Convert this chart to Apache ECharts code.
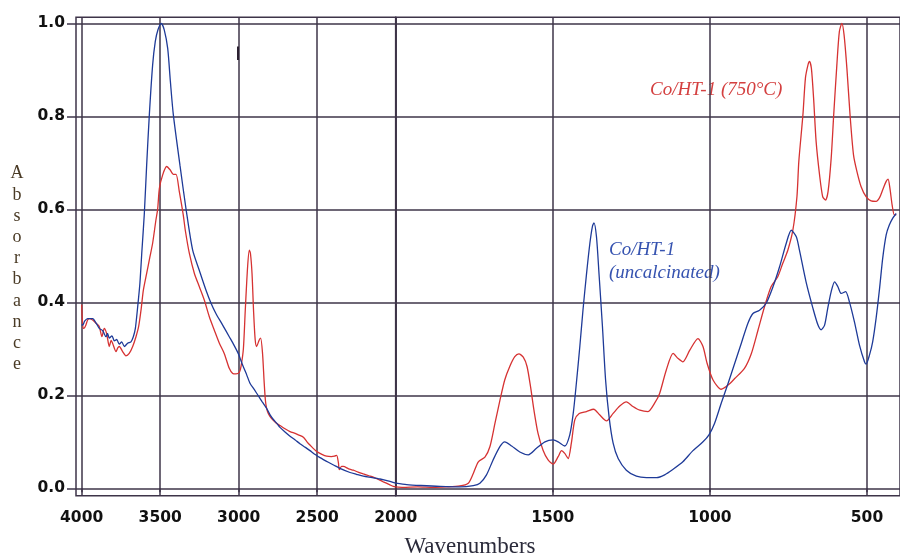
<!DOCTYPE html>
<html>
<head>
<meta charset="utf-8">
<script src="https://cdn.jsdelivr.net/npm/echarts@6/dist/echarts.min.js"></script>
<style>
  html, body { margin: 0; padding: 0; background: #ffffff; }
  #chart { width: 900px; height: 555px; }
</style>
</head>
<body>
<div id="chart"></div>
<script>
// FTIR spectra, absorbance vs wavenumber (cm-1).
// The axis is split at 2000 cm-1: the low-wavenumber part is drawn at twice the scale.

// Tick values
const xTicksHigh = [2000, 2500, 3000, 3500, 4000];
const xTicksLow = [500, 1000, 1500, 2000];
const xLabelsLow = [500, 1000, 1500];
const yTicks = [0, 0.2, 0.4, 0.6, 0.8, 1.0];

// Co/HT-1 (uncalcinated), 4000-2000 cm-1
const uncalcinedHigh = [
  [4000,0.352],[3994,0.351],[3980,0.360],[3962,0.365],[3930,0.365],[3909,0.356],[3888,0.344],
  [3866,0.339],[3845,0.326],[3835,0.333],[3824,0.323],[3807,0.328],[3792,0.317],[3777,0.320],
  [3760,0.310],[3745,0.315],[3728,0.305],[3707,0.312],[3686,0.315],[3671,0.326],[3658,0.344],
  [3643,0.391],[3629,0.441],[3616,0.512],[3601,0.590],[3586,0.695],[3569,0.803],[3548,0.910],
  [3531,0.961],[3514,0.986],[3493,1.000],[3474,0.986],[3452,0.946],[3435,0.875],[3416,0.803],
  [3374,0.695],[3335,0.600],[3293,0.512],[3251,0.469],[3208,0.426],[3176,0.398],[3145,0.376],
  [3102,0.351],[3060,0.326],[3030,0.308],[3000,0.288],[2975,0.265],[2950,0.245],[2928,0.226],
  [2900,0.212],[2875,0.199],[2850,0.186],[2822,0.172],[2800,0.158],[2779,0.148],[2758,0.140],
  [2737,0.131],[2705,0.121],[2673,0.112],[2640,0.104],[2610,0.096],[2575,0.088],[2546,0.081],
  [2510,0.072],[2482,0.066],[2429,0.056],[2390,0.049],[2355,0.043],[2291,0.034],[2250,0.030],
  [2206,0.026],[2150,0.023],[2100,0.020],[2050,0.016],[2000,0.011]
];

// Co/HT-1 (uncalcinated), 2000-400 cm-1
const uncalcinedLow = [
  [2000,0.011],[1965,0.008],[1920,0.006],[1859,0.004],[1796,0.003],[1753,0.006],[1732,0.011],
  [1711,0.029],[1690,0.061],[1668,0.090],[1653,0.100],[1631,0.091],[1605,0.078],[1578,0.072],
  [1552,0.086],[1525,0.100],[1499,0.104],[1483,0.100],[1462,0.091],[1446,0.115],[1435,0.161],
  [1425,0.226],[1414,0.305],[1404,0.383],[1393,0.459],[1382,0.527],[1374,0.563],[1369,0.571],
  [1361,0.541],[1353,0.462],[1342,0.348],[1332,0.233],[1321,0.154],[1308,0.097],[1292,0.064],
  [1266,0.039],[1234,0.026],[1202,0.023],[1170,0.023],[1144,0.029],[1117,0.041],[1086,0.057],
  [1054,0.081],[1022,0.100],[1003,0.115],[985,0.140],[964,0.183],[942,0.226],[921,0.269],
  [900,0.312],[879,0.355],[863,0.376],[842,0.383],[821,0.398],[799,0.434],[778,0.477],
  [757,0.527],[741,0.555],[725,0.541],[715,0.512],[694,0.444],[672,0.387],[656,0.351],
  [646,0.341],[635,0.351],[625,0.387],[614,0.423],[603,0.444],[593,0.434],[582,0.419],
  [568,0.423],[556,0.401],[540,0.358],[524,0.308],[508,0.272],[503,0.267],[492,0.287],
  [482,0.315],[471,0.366],[460,0.430],[450,0.495],[439,0.545],[429,0.566],[418,0.581],[407,0.591]
];

// Co/HT-1 (750 °C), 4000-2000 cm-1
const calcinedHigh = [
  [4000,0.395],[3996,0.365],[3990,0.344],[3982,0.345],[3973,0.351],[3962,0.362],[3951,0.365],
  [3930,0.362],[3909,0.355],[3888,0.348],[3871,0.326],[3856,0.344],[3841,0.333],[3824,0.305],
  [3812,0.318],[3803,0.312],[3781,0.294],[3770,0.302],[3760,0.305],[3739,0.294],[3718,0.285],
  [3697,0.290],[3675,0.305],[3654,0.326],[3637,0.348],[3622,0.383],[3607,0.426],[3586,0.462],
  [3565,0.498],[3548,0.527],[3527,0.577],[3516,0.600],[3505,0.645],[3484,0.674],[3459,0.692],
  [3437,0.685],[3416,0.675],[3399,0.675],[3378,0.638],[3353,0.588],[3340,0.555],[3314,0.505],
  [3282,0.462],[3251,0.434],[3219,0.405],[3187,0.369],[3155,0.340],[3123,0.312],[3092,0.290],
  [3060,0.258],[3038,0.247],[3017,0.246],[2995,0.250],[2985,0.262],[2970,0.300],[2958,0.383],
  [2943,0.477],[2932,0.512],[2925,0.505],[2915,0.462],[2905,0.380],[2895,0.320],[2886,0.305],
  [2869,0.319],[2860,0.323],[2848,0.290],[2838,0.230],[2830,0.190],[2822,0.172],[2810,0.160],
  [2790,0.150],[2760,0.140],[2737,0.135],[2705,0.128],[2673,0.122],[2640,0.118],[2620,0.115],
  [2588,0.110],[2565,0.100],[2546,0.093],[2503,0.079],[2470,0.073],[2440,0.069],[2410,0.068],
  [2390,0.069],[2376,0.071],[2365,0.055],[2359,0.040],[2345,0.047],[2334,0.047],[2300,0.042],
  [2270,0.039],[2240,0.035],[2206,0.031],[2170,0.027],[2143,0.024],[2110,0.019],[2079,0.014],
  [2040,0.008],[2015,0.004],[2000,0.003]
];

// Co/HT-1 (750 °C), 2000-400 cm-1
const calcinedLow = [
  [2000,0.003],[1976,0.002],[1930,0.003],[1880,0.002],[1840,0.003],[1796,0.005],[1769,0.011],
  [1753,0.032],[1737,0.057],[1716,0.067],[1700,0.090],[1684,0.140],[1668,0.190],[1653,0.233],
  [1637,0.262],[1621,0.283],[1608,0.289],[1594,0.282],[1582,0.262],[1571,0.219],[1560,0.168],
  [1547,0.118],[1531,0.082],[1515,0.061],[1499,0.052],[1483,0.068],[1472,0.081],[1462,0.075],
  [1451,0.064],[1441,0.097],[1430,0.147],[1416,0.161],[1393,0.165],[1370,0.170],[1351,0.158],
  [1329,0.145],[1308,0.161],[1287,0.177],[1266,0.186],[1245,0.176],[1223,0.168],[1197,0.165],
  [1176,0.183],[1160,0.204],[1139,0.254],[1117,0.290],[1101,0.279],[1086,0.272],[1064,0.297],
  [1038,0.322],[1022,0.305],[1009,0.269],[990,0.233],[964,0.213],[942,0.222],[921,0.236],
  [890,0.258],[868,0.290],[847,0.340],[826,0.391],[805,0.434],[784,0.455],[768,0.484],
  [752,0.512],[736,0.555],[723,0.627],[717,0.703],[704,0.803],[696,0.882],[688,0.910],
  [683,0.918],[677,0.903],[670,0.839],[662,0.746],[651,0.674],[641,0.627],[632,0.620],
  [624,0.638],[614,0.710],[606,0.803],[596,0.910],[588,0.982],[580,1.000],[573,0.975],
  [564,0.903],[554,0.803],[543,0.717],[532,0.681],[519,0.649],[503,0.627],[487,0.618],
  [471,0.617],[460,0.625],[450,0.642],[439,0.660],[433,0.665],[427,0.645],[420,0.609],
  [413,0.588],[407,0.588]
];

const GRID_COLOR = '#3e3449';
const BLUE = '#1e3a98';
const RED = '#d63232';
const TICK_FONT = { fontFamily: 'DejaVu Sans', fontWeight: 'bold', fontSize: 15.5, color: '#111111' };

const isOn = (v, list) => list.some(t => Math.abs(t - v) < 1e-6);

function xAxisFor(gridIndex, min, max, ticks, labels) {
  return {
    type: 'value', gridIndex, inverse: true, min, max,
    axisLine: { show: false },
    axisTick: { show: true, inside: false, length: 4, customValues: ticks,
      lineStyle: { color: GRID_COLOR, width: 1.5 } },
    axisLabel: Object.assign({ customValues: labels, margin: 14,
      formatter: v => isOn(v, labels) ? String(Math.round(v)) : '' }, TICK_FONT),
    splitLine: { show: true, lineStyle: { color: GRID_COLOR, width: 1.5 } }
  };
}

function yAxisFor(gridIndex, showLabels) {
  return {
    type: 'value', gridIndex, min: -0.0159, max: 1.0129,
    axisLine: { show: false },
    axisTick: { show: showLabels, inside: false, length: 9, customValues: yTicks,
      lineStyle: { color: GRID_COLOR, width: 1.5 } },
    axisLabel: Object.assign({ show: showLabels, customValues: yTicks, margin: 11,
      formatter: v => isOn(v, yTicks) ? v.toFixed(1) : '' }, TICK_FONT),
    splitLine: { show: true, lineStyle: { color: GRID_COLOR, width: 1.5 } }
  };
}

function spectrum(name, data, color, gridIndex, extra) {
  return Object.assign({
    name, type: 'line', data, xAxisIndex: gridIndex, yAxisIndex: gridIndex,
    showSymbol: false, smooth: 0.25, silent: true,
    lineStyle: { color, width: 1.3 }
  }, extra || {});
}

const chart = echarts.init(document.getElementById('chart'), null, { renderer: 'canvas' });

chart.setOption({
  animation: false,
  backgroundColor: '#ffffff',
  grid: [
    { left: 76, top: 17.3, width: 319.7, height: 478.4, show: true,
      borderColor: GRID_COLOR, borderWidth: 1.5, backgroundColor: 'transparent' },
    { left: 395.7, top: 17.3, width: 504.9, height: 478.4, show: true,
      borderColor: GRID_COLOR, borderWidth: 1.5, backgroundColor: 'transparent' }
  ],
  xAxis: [
    xAxisFor(0, 2000, 4036, xTicksHigh, xTicksHigh),
    xAxisFor(1, 395, 2000, xTicksLow, xLabelsLow)
  ],
  yAxis: [yAxisFor(0, true), yAxisFor(1, false)],
  series: [
    spectrum('Co/HT-1 (750°C)', calcinedHigh, RED, 0, {
      markLine: {
        silent: true, symbol: 'none', label: { show: false },
        lineStyle: { color: '#2a2030', width: 2, type: 'solid' },
        data: [[{ coord: [3007, 0.950] }, { coord: [3007, 0.921] }]]
      }
    }),
    spectrum('Co/HT-1 (750°C)', calcinedLow, RED, 1),
    spectrum('Co/HT-1 (uncalcinated)', uncalcinedHigh, BLUE, 0),
    spectrum('Co/HT-1 (uncalcinated)', uncalcinedLow, BLUE, 1)
  ],
  graphic: [
    { type: 'text', x: 17, y: 163, silent: true,
      style: { text: 'A\nb\ns\no\nr\nb\na\nn\nc\ne', align: 'center', verticalAlign: 'top',
        font: '18px "Liberation Serif"', lineHeight: 21.2, fill: '#4a3b26' } },
    { type: 'text', x: 470, y: 547, silent: true,
      style: { text: 'Wavenumbers', align: 'center', verticalAlign: 'middle',
        font: '23px "Liberation Serif"', fill: '#2b2b3b' } },
    { type: 'text', x: 650, y: 90, silent: true,
      style: { text: 'Co/HT-1 (750°C)', align: 'left', verticalAlign: 'middle',
        font: 'italic 19px "Liberation Serif"', fill: '#d44040' } },
    { type: 'text', x: 609, y: 238.5, silent: true,
      style: { text: 'Co/HT-1\n(uncalcinated)', align: 'left', verticalAlign: 'top',
        font: 'italic 19px "Liberation Serif"', lineHeight: 23, fill: '#3653b0' } }
  ]
});
</script>
</body>
</html>
